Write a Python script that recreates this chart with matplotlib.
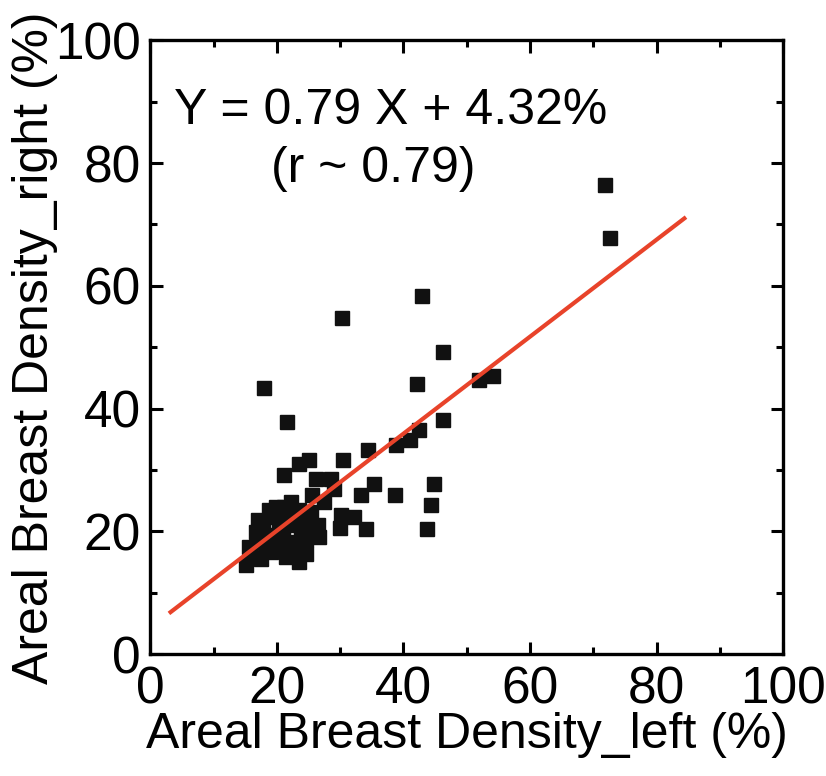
import matplotlib.pyplot as plt
from matplotlib.ticker import MultipleLocator

plt.rcParams['font.family'] = ['Liberation Sans', 'DejaVu Sans']

# Areal breast density, left vs right (%)
left = [71.9, 72.7, 42.9, 30.3, 46.3, 17.9, 42.2, 51.9, 54.1, 21.6,
        46.3, 42.4, 41.0, 38.9, 34.4, 30.5, 25.1, 23.5, 21.1, 26.2,
        28.6, 29.0, 35.4, 33.3, 38.6, 44.9, 44.4, 25.6, 27.5, 30.2,
        32.2, 30.0, 34.1, 43.7, 18.7, 17.0, 21.1, 23.5, 26.5, 26.7,
        24.6, 23.5, 21.0, 17.5, 15.1, 15.6, 20.6, 18.6, 22.7, 24.9,
        16.7, 17.8, 19.4, 21.9, 19.8, 22.2, 23.8, 25.4, 19.0, 21.4,
        15.9, 18.3, 23.0, 20.3, 24.6, 17.1, 22.2, 19.8, 25.7, 21.0]
right = [76.5, 67.8, 58.3, 54.7, 49.2, 43.3, 44.0, 44.6, 45.3, 37.8,
         38.1, 36.6, 34.9, 34.0, 33.2, 31.6, 31.6, 30.9, 29.2, 28.5,
         28.5, 26.9, 27.7, 25.9, 25.9, 27.7, 24.3, 25.9, 24.8, 22.6,
         22.3, 20.5, 20.4, 20.4, 23.5, 21.8, 23.9, 23.5, 21.0, 19.1,
         16.3, 15.0, 17.8, 15.5, 14.5, 17.4, 20.4, 19.4, 21.0, 21.5,
         19.9, 21.5, 22.3, 22.8, 18.2, 18.2, 19.9, 23.1, 16.6, 15.8,
         15.8, 17.4, 16.9, 21.5, 18.6, 18.2, 24.8, 23.9, 19.9, 19.9]

# Linear fit
slope = 0.79
intercept = 4.32
fit_x = [3.2, 84.4]
fit_y = [slope * v + intercept for v in fit_x]

fig = plt.figure(figsize=(8.26, 7.76), dpi=100)
ax = fig.add_axes([0.182, 0.157, 0.766, 0.791])

ax.plot(left, right, 's', color='#111111', markersize=10, zorder=2)
ax.plot(fit_x, fit_y, color='#e8432a', linewidth=3, zorder=3)

ax.set_xlim(0, 100)
ax.set_ylim(0, 100)
ax.xaxis.set_major_locator(MultipleLocator(20))
ax.xaxis.set_minor_locator(MultipleLocator(10))
ax.yaxis.set_major_locator(MultipleLocator(20))
ax.yaxis.set_minor_locator(MultipleLocator(10))
ax.tick_params(which='both', direction='in', top=True, right=True,
               labeltop=False, labelright=False, width=2.2)
ax.tick_params(which='major', length=9, labelsize=37)
ax.tick_params(axis='x', which='major', pad=8)
ax.tick_params(axis='y', which='major', pad=7)
ax.tick_params(which='minor', length=5)
for sp in ax.spines.values():
    sp.set_linewidth(2.4)

ax.set_xlabel('Areal Breast Density_left (%)', fontsize=36, labelpad=-2)
ax.set_ylabel('Areal Breast Density_right (%)', fontsize=36, labelpad=-2)

ax.text(0.38, 0.885, 'Y = 0.79 X + 4.32%', transform=ax.transAxes,
        fontsize=36, ha='center', va='center')
ax.text(0.352, 0.79, '(r ~ 0.79)', transform=ax.transAxes,
        fontsize=36, ha='center', va='center')

fig.savefig('out.png', dpi=100)
